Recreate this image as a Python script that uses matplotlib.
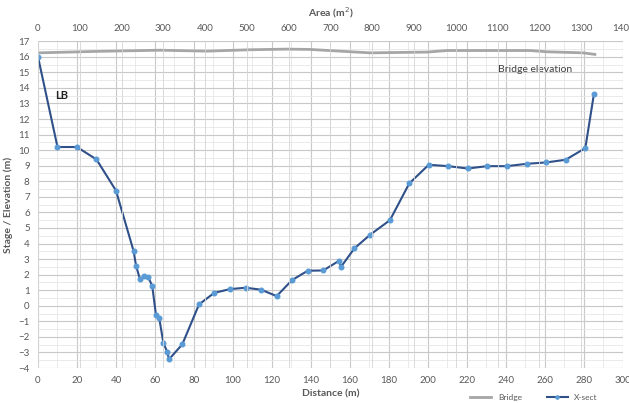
import numpy as np
from matplotlib import pyplot as plt, ticker

plt.rcParams['font.family'] = ['Lato', 'DejaVu Sans']

# cross-section survey points: distance (m), elevation (m)
xs_dist = [0, 10, 20, 30, 40, 49, 50.3, 52.3, 54.4, 56.6, 58.6, 60.5, 62.2, 64.3, 66.3, 67.2,
           74.0, 82.6, 90.4, 98.5, 106.5, 114.5, 122.4, 130.3, 138.3, 146.3, 154.4, 155.4,
           162.2, 170.3, 180.5, 190.4, 200.4, 210.4, 220.3, 230.4, 240.3, 250.6, 260.7,
           270.6, 280.7, 285.1]
xs_elev = [16.0, 10.2, 10.2, 9.4, 7.4, 3.53, 2.57, 1.7, 1.9, 1.82, 1.27, -0.6, -0.81, -2.38,
           -2.97, -3.44, -2.48, 0.09, 0.83, 1.07, 1.16, 1.03, 0.62, 1.65, 2.25, 2.27, 2.89,
           2.5, 3.68, 4.56, 5.5, 7.86, 9.06, 8.97, 8.82, 8.97, 8.97, 9.12, 9.21, 9.38,
           10.13, 13.6]

# bridge soffit
br_dist = [0, 31.8, 62.6, 86.7, 108.7, 127.7, 139.5, 170.3, 199.5, 209.7, 252.3, 261, 279.5, 285.6]
br_elev = [16.25, 16.35, 16.42, 16.36, 16.45, 16.49, 16.47, 16.25, 16.3, 16.4, 16.4, 16.32, 16.25, 16.15]

grey = '#595959'

fig = plt.figure(figsize=(6.29, 4.03), dpi=100)
ax = fig.add_axes([0.0604, 0.0868, 0.930, 0.811])

ax.set_xlim(0, 300)
ax.set_ylim(-4, 17)
ax.xaxis.set_major_locator(ticker.MultipleLocator(20))
ax.xaxis.set_minor_locator(ticker.MultipleLocator(10))
ax.yaxis.set_major_locator(ticker.MultipleLocator(1))
ax.yaxis.set_minor_locator(ticker.MultipleLocator(0.5))
ax.grid(which='major', color='#c8c8c8', linewidth=0.8)
ax.grid(which='minor', color='#e6e6e6', linewidth=0.6)
ax.set_axisbelow(True)
for s in ax.spines.values():
    s.set_visible(False)
ax.tick_params(which='both', length=0, labelsize=7, labelcolor=grey, pad=6)

ax.plot(br_dist, br_elev, color='#a6a6a6', linewidth=2, label='Bridge')
ax.plot(xs_dist, xs_elev, color='#2f5089', linewidth=1.5, marker='o', markersize=3.3,
        markerfacecolor='#5b9bd5', markeredgecolor='#5b9bd5', label='X-sect')

ax.text(9, 13.5, 'LB', fontsize=8, fontweight='bold', color='#222222', va='center')
ax.text(236, 15.2, 'Bridge elevation', fontsize=7.5, color='#404040', va='center')

ax.set_xlabel('Distance (m)', fontsize=7.5, fontweight='bold', color=grey, labelpad=3)
ax.set_ylabel('Stage / Elevation (m)', fontsize=7.5, fontweight='bold', color=grey, labelpad=4)

top = ax.twiny()
top.set_xlim(0, 1400)
top.xaxis.set_major_locator(ticker.MultipleLocator(100))
top.grid(which='major', color='#d4d4d4', linewidth=0.6)
top.set_axisbelow(True)
for s in top.spines.values():
    s.set_visible(False)
top.tick_params(which='both', length=0, labelsize=7, labelcolor=grey, pad=6)
top.set_xlabel('Area (m$^2$)', fontsize=7.5, fontweight='bold', color=grey, labelpad=5)

ax.legend(loc='lower right', bbox_to_anchor=(0.97, -0.125), ncol=2, frameon=False,
          fontsize=6, labelcolor=grey, handlelength=2.5, columnspacing=3, markerscale=0.7)

fig.savefig('out.png', dpi=100)
